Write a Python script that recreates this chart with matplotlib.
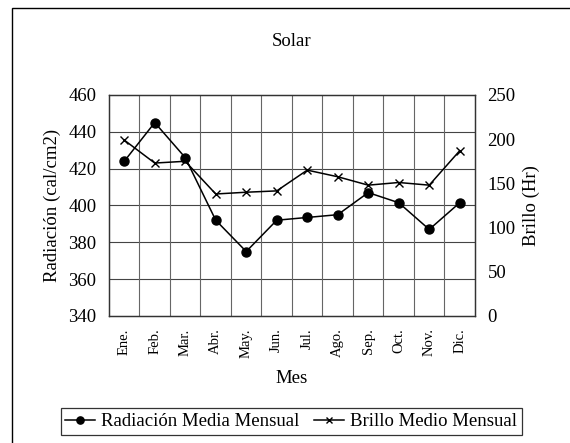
import numpy as np
import matplotlib.pyplot as plt
from matplotlib.patches import Rectangle

plt.rcParams['font.family'] = ['Liberation Serif', 'DejaVu Serif']

meses = ['Ene.', 'Feb.', 'Mar.', 'Abr.', 'May.', 'Jun.', 'Jul.', 'Ago.', 'Sep.', 'Oct.', 'Nov.', 'Dic.']
radiacion = [424, 445, 426, 392, 375, 392, 393.5, 395, 407, 401.5, 387, 401.5]
brillo = [199, 173, 175, 138, 140, 141.5, 165, 157.5, 148, 151, 148, 187]

fig = plt.figure(figsize=(5.7, 4.43), dpi=100)
ax = fig.add_axes([0.1912, 0.2867, 0.6421, 0.4989])
ax2 = ax.twinx()

x = np.arange(len(meses))
l1, = ax.plot(x, radiacion, color='black', lw=1.1, marker='o', ms=6.5,
              label='Radiación Media Mensual')
l2, = ax2.plot(x, brillo, color='black', lw=1.1, marker='x', ms=6, mew=1.0,
               label='Brillo Medio Mensual')

ax.set_xlim(-0.5, len(meses) - 0.5)
ax.set_ylim(340, 460)
ax.set_yticks(np.arange(340, 461, 20))
ax2.set_ylim(0, 250)
ax2.set_yticks(np.arange(0, 251, 50))

# rejilla: horizontal en el eje izquierdo, vertical entre categorías
for v in np.arange(360, 460, 20):
    ax.axhline(v, color='#444444', lw=0.8, zorder=0)
for b in np.arange(0.5, len(meses) - 0.5, 1):
    ax.axvline(b, color='#666666', lw=0.8, zorder=0)

ax.set_xticks(x)
ax.set_xticklabels(meses, rotation=90, fontsize=10.5)
ax.tick_params(axis='x', length=0, pad=9)
ax.tick_params(axis='y', length=0, pad=9, labelsize=13.5)
ax2.tick_params(axis='y', length=0, pad=9, labelsize=13.5)

for a in (ax, ax2):
    for s in a.spines.values():
        s.set_color('#333333')
        s.set_linewidth(0.9)

ax.set_xlabel('Mes', fontsize=13.5, labelpad=9)
ax.set_ylabel('Radiación (cal/cm2)', fontsize=13.5, labelpad=5)
ax2.set_ylabel('Brillo (Hr)', fontsize=13.5, labelpad=5)

fig.text(0.512, 0.907, 'Solar', ha='center', va='center', fontsize=13.5)

leg = fig.legend(handles=[l1, l2], loc='center', bbox_to_anchor=(0.511, 0.048),
                 ncol=2, fontsize=13.5, frameon=True, fancybox=False,
                 handlelength=1.6, handletextpad=0.3, columnspacing=0.8,
                 borderpad=0.25, borderaxespad=0, markerscale=0.8)
leg.get_frame().set_edgecolor('black')
leg.get_frame().set_linewidth(0.9)

# marco exterior
fig.patches.append(Rectangle((12 / 570, -0.1), 1.2, 0.1 + 1 - 8 / 443,
                             transform=fig.transFigure, fill=False,
                             edgecolor='black', lw=1.0))

fig.savefig('out.png', dpi=100)
